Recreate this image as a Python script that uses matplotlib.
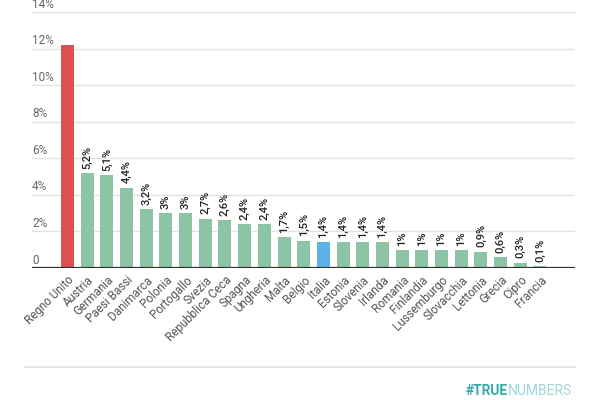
import matplotlib
matplotlib.use("Agg")
import matplotlib.pyplot as plt
from matplotlib.lines import Line2D

countries = ["Regno Unito", "Austria", "Germania", "Paesi Bassi", "Danimarca", "Polonia",
             "Portogallo", "Svezia", "Repubblica Ceca", "Spagna", "Ungheria", "Malta",
             "Belgio", "Italia", "Estonia", "Slovenia", "Irlanda", "Romania", "Finlandia",
             "Lussemburgo", "Slovacchia", "Lettonia", "Grecia", "Cipro", "Francia"]
values = [12.2, 5.2, 5.1, 4.4, 3.2, 3, 3, 2.7, 2.6, 2.4, 2.4, 1.7,
          1.5, 1.4, 1.4, 1.4, 1.4, 1, 1, 1, 1, 0.9, 0.6, 0.3, 0.1]
show_label = [False] + [True] * 24
yticks = [0, 2, 4, 6, 8, 10, 12, 14]
ytick_labels = ["0", "2%", "4%", "6%", "8%", "10%", "12%", "14%"]

RED = "#DD5050"
GREEN = "#8DC4A6"
BLUE = "#5CB4E6"

plt.rcParams['font.family'] = ['Roboto', 'DejaVu Sans']

fig = plt.figure(figsize=(6, 4), dpi=100)
ax = fig.add_axes([32/600, 1 - 268/400, (575 - 32)/600, (268 - 12)/400])

colors = []
for c in countries:
    if c == "Regno Unito":
        colors.append(RED)
    elif c == "Italia":
        colors.append(BLUE)
    else:
        colors.append(GREEN)

x = list(range(len(countries)))
bars = ax.bar(x, values, width=0.66, color=colors, zorder=3)

def fmt(v):
    s = ("%g" % v).replace(".", ",")
    return s + "%"

for xi, v, sl in zip(x, values, show_label):
    if sl:
        ax.annotate(fmt(v), xy=(xi, v), xytext=(0, 3), textcoords="offset points",
                    rotation=90, ha="center", va="bottom", fontsize=8,
                    fontweight="medium", color="#222222")

ax.set_xlim(-1.8, len(countries) - 1 + 1.78)
ax.set_ylim(0, 14)

for s in ax.spines.values():
    s.set_visible(False)

for t in yticks[1:]:
    ax.axhline(t, color="#e2e2e2", lw=1, zorder=1)
ax.axhline(0, color="#333333", lw=1.6, zorder=4)

ax.set_yticks([])
for t, lab in zip(yticks, ytick_labels):
    ax.annotate(lab, xy=(0, t), xycoords=("axes fraction", "data"),
                xytext=(0, 1), textcoords="offset points",
                ha="left", va="bottom", fontsize=8.5, color="#666666")

ax.set_xticks(x)
ax.set_xticklabels(countries, rotation=45, ha="right", rotation_mode="anchor",
                   fontsize=8.5, color="#555555")
ax.tick_params(axis="x", length=0, pad=4)

fig.add_artist(Line2D([25/600, 575/600], [1 - 367/400, 1 - 367/400],
                      color="#e6e6e6", lw=1.5, transform=fig.transFigure))

t2 = fig.text(572/600, 1 - 391/400, "NUMBERS", ha="right", va="center",
              fontsize=10, color="#9FD6D8",
              family=['Liberation Sans Narrow', 'Roboto', 'DejaVu Sans'])
ax.annotate("#TRUE", xy=(0, 0.5), xycoords=t2, ha="right", va="center",
            fontsize=10, color="#36AAAD", fontweight="bold",
            family=['Liberation Sans Narrow', 'Roboto', 'DejaVu Sans'],
            annotation_clip=False)

fig.savefig("out.png", dpi=100, facecolor="white")
